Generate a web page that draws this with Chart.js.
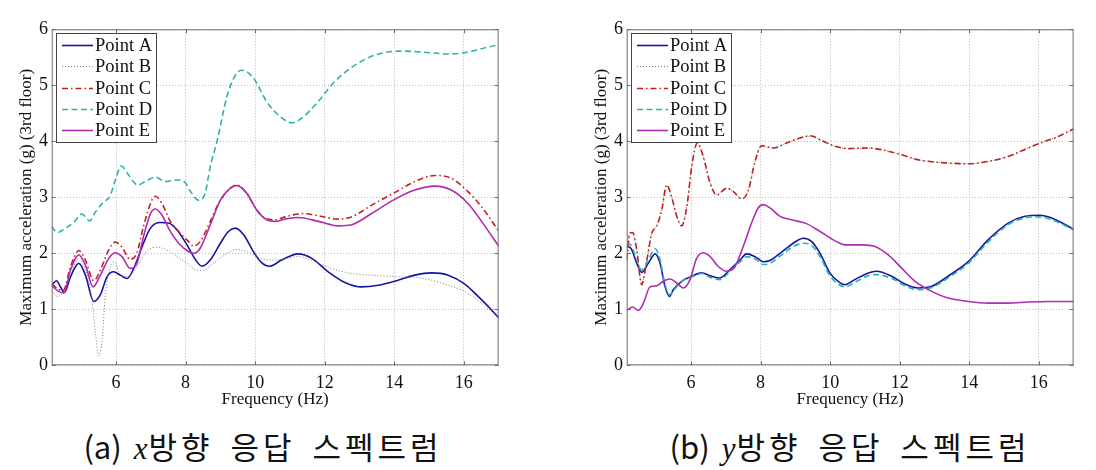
<!DOCTYPE html>
<html>
<head>
<meta charset="utf-8">
<script src="https://cdn.jsdelivr.net/npm/chart.js@4/dist/chart.umd.min.js"></script>
<style>
  body { margin: 0; background: #fff; width: 1096px; height: 470px; overflow: hidden; position: relative; }
  .panel { position: absolute; top: 0; width: 521px; height: 420px; }
  .cap { position: absolute; top: 424px; height: 44px; line-height: 44px; text-align: center;
         font-family: "Noto Sans CJK KR", sans-serif; font-size: 31px; color: #111; letter-spacing: 4px; word-spacing: 6px; white-space: nowrap; }
  .cap b { font-weight: normal; letter-spacing: 0; margin-right: 12px; }
  .cap i { font-family: "Liberation Serif", serif; font-style: italic; letter-spacing: 1px; }
</style>
</head>
<body>
<div class="panel" style="left:0px"><canvas id="chartX"></canvas></div>
<div class="panel" style="left:575px"><canvas id="chartY"></canvas></div>
<div class="cap" style="left:0px; width:526px"><b>(a)</b><i>x</i>방향 응답 스펙트럼</div>
<div class="cap" style="left:600px; width:500px"><b>(b)</b><i>y</i>방향 응답 스펙트럼</div>
<script>
// etiquetas
let nombresPuntos = ['Point A', 'Point B', 'Point C', 'Point D', 'Point E'];
let ticksFrec = [6, 8, 10, 12, 14, 16];

// (a) direccion x  [frecuencia, aceleracion]
let xPuntoA = [[4.15,1.43],[4.29,1.51],[4.40,1.40],[4.52,1.30],[4.69,1.58],[4.93,1.82],[5.12,1.61],[5.36,1.14],[5.55,1.26],[5.74,1.58],[5.93,1.67],[6.12,1.61],[6.32,1.55],[6.51,1.73],[6.75,2.12],[6.99,2.45],[7.27,2.55],[7.51,2.54],[7.75,2.42],[8.04,2.15],[8.28,1.89],[8.47,1.77],[8.71,1.88],[9.00,2.18],[9.23,2.39],[9.43,2.45],[9.67,2.33],[9.95,2.03],[10.19,1.83],[10.42,1.77],[10.76,1.88],[11.24,1.99],[11.63,1.91],[12.10,1.67],[12.58,1.48],[13.06,1.40],[13.54,1.43],[14.11,1.52],[14.59,1.61],[15.07,1.65],[15.55,1.61],[16.03,1.45],[16.41,1.23],[16.75,1.02],[17.0,0.85]];
let xPuntoB = [[4.15,1.32],[4.31,1.23],[4.50,1.32],[4.69,1.61],[4.93,1.91],[5.12,1.70],[5.28,1.29],[5.41,0.57],[5.50,0.17],[5.60,0.45],[5.69,1.23],[5.84,1.76],[5.95,1.85],[6.08,1.67],[6.22,1.58],[6.41,1.61],[6.60,1.76],[6.84,2.00],[7.13,2.11],[7.42,2.07],[7.75,1.94],[8.04,1.82],[8.33,1.70],[8.52,1.70],[8.80,1.82],[9.19,2.00],[9.47,2.07],[9.76,2.03],[10.14,1.91],[10.57,1.88],[11.24,1.94],[11.72,1.85],[12.20,1.73],[12.77,1.64],[13.35,1.61],[14.11,1.58],[14.59,1.57],[15.07,1.52],[15.55,1.43],[16.03,1.32],[16.51,1.11],[17.0,0.85]];
let xPuntoC = [[4.15,1.45],[4.31,1.375],[4.48,1.33],[4.69,1.76],[4.93,2.05],[5.12,1.88],[5.36,1.51],[5.55,1.70],[5.79,2.06],[5.98,2.20],[6.17,2.11],[6.41,1.89],[6.60,2.01],[6.79,2.48],[7.03,2.95],[7.13,3.02],[7.32,2.89],[7.56,2.57],[7.80,2.39],[8.04,2.24],[8.23,2.13],[8.42,2.21],[8.71,2.57],[9.00,2.95],[9.28,3.16],[9.47,3.22],[9.76,3.07],[10.05,2.77],[10.33,2.61],[10.57,2.60],[10.86,2.65],[11.34,2.71],[11.82,2.67],[12.39,2.61],[12.77,2.65],[13.35,2.86],[13.97,3.07],[14.59,3.28],[15.17,3.39],[15.64,3.34],[16.12,3.10],[16.51,2.83],[17.0,2.40]];
let xPuntoD = [[4.15,2.48],[4.31,2.37],[4.55,2.45],[4.78,2.55],[5.02,2.70],[5.24,2.58],[5.41,2.74],[5.65,2.92],[5.82,3.01],[5.98,3.31],[6.15,3.56],[6.36,3.40],[6.62,3.22],[6.89,3.30],[7.13,3.36],[7.42,3.28],[7.61,3.30],[7.85,3.31],[7.99,3.26],[8.18,3.07],[8.37,2.95],[8.56,3.07],[8.71,3.55],[8.90,3.99],[9.19,4.80],[9.43,5.18],[9.62,5.27],[9.95,5.13],[10.33,4.71],[10.72,4.44],[11.05,4.33],[11.39,4.44],[11.77,4.68],[12.25,5.04],[12.73,5.30],[13.21,5.48],[13.68,5.58],[14.26,5.61],[14.83,5.59],[15.60,5.56],[16.08,5.59],[16.75,5.69],[17.0,5.72]];
let xPuntoE = [[4.15,1.42],[4.35,1.32],[4.50,1.29],[4.69,1.70],[4.93,1.97],[5.12,1.79],[5.34,1.40],[5.55,1.61],[5.79,1.91],[5.98,2.01],[6.17,1.94],[6.41,1.73],[6.60,1.82],[6.79,2.30],[6.99,2.71],[7.13,2.79],[7.32,2.68],[7.56,2.39],[7.80,2.18],[8.04,2.05],[8.23,2.00],[8.42,2.09],[8.71,2.51],[9.00,2.95],[9.28,3.16],[9.47,3.21],[9.76,3.07],[10.05,2.77],[10.33,2.60],[10.57,2.57],[10.86,2.61],[11.24,2.64],[11.82,2.57],[12.39,2.49],[12.77,2.51],[13.35,2.71],[13.97,2.95],[14.59,3.13],[15.17,3.20],[15.64,3.13],[16.12,2.89],[16.51,2.57],[17.0,2.13]];

// (b) direccion y
let yPuntoA = [[4.15,2.12],[4.27,2.09],[4.44,1.82],[4.58,1.66],[4.77,1.82],[4.97,1.99],[5.11,1.82],[5.25,1.41],[5.38,1.23],[5.49,1.35],[5.73,1.50],[6.02,1.59],[6.31,1.65],[6.55,1.60],[6.83,1.56],[7.12,1.71],[7.41,1.88],[7.60,1.99],[7.84,1.94],[8.08,1.85],[8.27,1.87],[8.56,2.00],[8.94,2.18],[9.23,2.27],[9.47,2.21],[9.71,2.00],[9.99,1.65],[10.23,1.50],[10.43,1.44],[10.71,1.53],[11.10,1.65],[11.33,1.68],[11.77,1.59],[12.15,1.45],[12.53,1.38],[12.92,1.41],[13.39,1.59],[13.97,1.85],[14.54,2.24],[15.12,2.54],[15.60,2.66],[16.03,2.68],[16.37,2.63],[17.0,2.43]];
let yPuntoB = [[4.15,2.10],[4.25,2.38],[4.32,2.37],[4.44,2.05],[4.58,1.46],[4.73,1.90],[4.87,2.36],[5.01,2.49],[5.16,2.79],[5.30,3.21],[5.44,3.00],[5.59,2.66],[5.73,2.50],[5.88,2.85],[6.02,3.55],[6.18,3.96],[6.35,3.72],[6.55,3.25],[6.74,3.05],[7.02,3.16],[7.22,3.10],[7.46,2.98],[7.65,3.13],[7.84,3.64],[8.03,3.91],[8.37,3.88],[8.75,3.97],[9.13,4.05],[9.42,4.09],[9.80,4.00],[10.14,3.91],[10.52,3.87],[11.10,3.88],[11.48,3.85],[12.05,3.76],[12.53,3.67],[13.20,3.62],[13.97,3.60],[14.54,3.64],[15.12,3.73],[15.69,3.88],[16.17,4.00],[16.46,4.06],[17.0,4.22]];
let yPuntoC = [[4.15,1.88],[4.25,2.36],[4.32,2.37],[4.44,2.06],[4.58,1.44],[4.73,1.88],[4.87,2.36],[5.01,2.48],[5.16,2.78],[5.30,3.22],[5.44,3.01],[5.59,2.66],[5.73,2.49],[5.88,2.84],[6.02,3.55],[6.18,3.97],[6.35,3.73],[6.55,3.25],[6.74,3.04],[7.02,3.16],[7.22,3.10],[7.46,2.97],[7.65,3.13],[7.84,3.64],[8.03,3.92],[8.37,3.88],[8.75,3.97],[9.13,4.06],[9.42,4.10],[9.80,4.00],[10.14,3.91],[10.52,3.87],[11.10,3.88],[11.48,3.85],[12.05,3.76],[12.53,3.67],[13.20,3.62],[13.97,3.60],[14.54,3.64],[15.12,3.73],[15.69,3.88],[16.17,4.00],[16.46,4.06],[17.0,4.22]];
let yPuntoD = [[4.15,2.18],[4.27,2.15],[4.44,1.88],[4.58,1.70],[4.77,1.88],[4.97,2.08],[5.11,1.88],[5.25,1.45],[5.38,1.26],[5.49,1.33],[5.73,1.50],[6.02,1.58],[6.31,1.64],[6.55,1.57],[6.83,1.53],[7.12,1.68],[7.41,1.85],[7.60,1.94],[7.84,1.90],[8.08,1.80],[8.27,1.82],[8.56,1.95],[8.94,2.12],[9.23,2.18],[9.47,2.14],[9.71,1.94],[9.99,1.60],[10.23,1.45],[10.43,1.40],[10.71,1.48],[11.10,1.60],[11.33,1.62],[11.77,1.55],[12.15,1.42],[12.53,1.35],[12.92,1.39],[13.39,1.56],[13.97,1.82],[14.54,2.20],[15.12,2.51],[15.60,2.63],[16.03,2.65],[16.37,2.60],[17.0,2.42]];
let yPuntoE = [[4.15,0.98],[4.32,1.04],[4.49,0.98],[4.63,1.11],[4.82,1.40],[5.01,1.42],[5.20,1.50],[5.40,1.54],[5.59,1.47],[5.78,1.38],[5.97,1.53],[6.16,1.91],[6.35,2.01],[6.55,1.94],[6.79,1.76],[7.02,1.68],[7.26,1.76],[7.50,2.12],[7.74,2.54],[7.93,2.81],[8.08,2.87],[8.27,2.81],[8.56,2.66],[8.94,2.59],[9.32,2.53],[9.71,2.39],[10.09,2.24],[10.28,2.18],[10.43,2.15],[10.91,2.15],[11.29,2.12],[11.67,1.97],[12.05,1.74],[12.44,1.50],[12.92,1.32],[13.39,1.20],[13.97,1.14],[14.54,1.11],[15.12,1.11],[15.69,1.13],[16.27,1.14],[17.0,1.14]];

const estilos = [
    { color: '#1515a3', dash: [], ancho: 1.6 },
    { color: '#7a7a7a', dash: [1, 2], ancho: 1 },
    { color: '#c41f1f', dash: [6, 3, 1.5, 3], ancho: 1.6 },
    { color: '#2ab3ad', dash: [6, 3.5], ancho: 1.6 },
    { color: '#b02cb0', dash: [], ancho: 1.6 }
];

const fuente = 'Liberation Serif';

const armarDatasets = (series) => {
    return series.map((s, i) => ({
        label: nombresPuntos[i],
        data: s.map(p => ({ x: p[0], y: p[1] })),
        borderColor: estilos[i].color,
        backgroundColor: estilos[i].color,
        borderDash: estilos[i].dash,
        borderWidth: estilos[i].ancho,
        pointRadius: 0,
        fill: false,
        cubicInterpolationMode: 'monotone',
        order: 5 - i
    }));
};

// marco, marcas de eje y leyenda estilo matlab
const marcoMatlab = {
    id: 'marcoMatlab',
    afterDatasetsDraw(chart) {
        const ctx = chart.ctx;
        const a = chart.chartArea;
        const sx = chart.scales.x, sy = chart.scales.y;
        ctx.save();
        ctx.strokeStyle = '#6e6e6e';
        ctx.lineWidth = 1;
        ctx.setLineDash([]);
        ctx.strokeRect(a.left + 0.5, a.top + 0.5, a.right - a.left - 1, a.bottom - a.top - 1);
        ctx.beginPath();
        sx.ticks.forEach(t => {
            const px = Math.round(sx.getPixelForValue(t.value)) + 0.5;
            ctx.moveTo(px, a.bottom); ctx.lineTo(px, a.bottom - 4);
            ctx.moveTo(px, a.top); ctx.lineTo(px, a.top + 4);
        });
        sy.ticks.forEach(t => {
            const py = Math.round(sy.getPixelForValue(t.value)) + 0.5;
            ctx.moveTo(a.left, py); ctx.lineTo(a.left + 4, py);
            ctx.moveTo(a.right, py); ctx.lineTo(a.right - 4, py);
        });
        ctx.stroke();
        ctx.restore();
    },
    afterDraw(chart) {
        const ctx = chart.ctx;
        const x0 = 56.5, y0 = 33.5, w = 100, h = 109;
        ctx.save();
        ctx.fillStyle = '#fff';
        ctx.fillRect(x0, y0, w, h);
        ctx.strokeStyle = '#444';
        ctx.lineWidth = 1;
        ctx.strokeRect(x0, y0, w, h);
        ctx.font = '18.5px "' + fuente + '"';
        ctx.textBaseline = 'middle';
        ctx.fillStyle = '#111';
        chart.data.datasets.forEach((ds, i) => {
            const yy = Math.round(45 + i * 21.3) + 0.5;
            ctx.beginPath();
            ctx.strokeStyle = ds.borderColor;
            ctx.lineWidth = ds.borderWidth;
            ctx.setLineDash(ds.borderDash);
            ctx.moveTo(62, yy);
            ctx.lineTo(93, yy);
            ctx.stroke();
            ctx.setLineDash([]);
            ctx.fillText(ds.label, 95, yy + 1);
        });
        ctx.restore();
    }
};

const crearGrafico = (id, series) => {
    new Chart(document.getElementById(id), {
        type: 'line',
        data: { datasets: armarDatasets(series) },
        options: {
            responsive: true,
            maintainAspectRatio: false,
            animation: false,
            layout: { padding: { top: 29.3, right: 22.4, bottom: 0, left: 0 } },
            plugins: { legend: { display: false }, tooltip: { enabled: false } },
            scales: {
                x: {
                    type: 'linear',
                    min: 4.15,
                    max: 17,
                    afterBuildTicks: s => { s.ticks = ticksFrec.map(v => ({ value: v })); },
                    afterFit: s => { s.height = 54.7; },
                    grid: { color: '#b9b9b9', drawTicks: false },
                    border: { display: false, dash: [1, 2] },
                    ticks: { padding: 7, color: '#111', font: { family: fuente, size: 18 } },
                    title: { display: true, text: 'Frequency (Hz)', color: '#111', padding: { top: 0, bottom: 10.5 }, font: { family: fuente, size: 17 } }
                },
                y: {
                    min: 0,
                    max: 6,
                    afterFit: s => { s.width = 51.7; },
                    grid: { color: '#b9b9b9', drawTicks: false },
                    border: { display: false, dash: [1, 2] },
                    ticks: { stepSize: 1, padding: 3.7, color: '#111', font: { family: fuente, size: 18 } },
                    title: { display: true, text: 'Maximum acceleration (g) (3rd floor)', color: '#111', padding: { top: 16.8, bottom: 0 }, font: { family: fuente, size: 17 } }
                }
            }
        },
        plugins: [marcoMatlab]
    });
};

crearGrafico('chartX', [xPuntoA, xPuntoB, xPuntoC, xPuntoD, xPuntoE]);
crearGrafico('chartY', [yPuntoA, yPuntoB, yPuntoC, yPuntoD, yPuntoE]);
</script>
</body>
</html>
